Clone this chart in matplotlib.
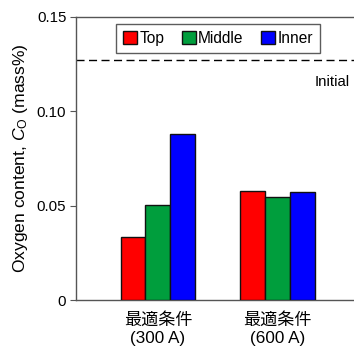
import matplotlib
matplotlib.use("Agg")
import matplotlib.pyplot as plt
import numpy as np

plt.rcParams['font.family'] = ['Liberation Sans', 'Noto Sans CJK JP', 'DejaVu Sans']
plt.rcParams['mathtext.fontset'] = 'custom'
plt.rcParams['mathtext.rm'] = 'Liberation Sans'
plt.rcParams['mathtext.it'] = 'Liberation Sans:italic'

categories = ["最適条件\n(300 A)", "最適条件\n(600 A)"]
series_names = ["Top", "Middle", "Inner"]
top = [0.0336, 0.0579]
middle = [0.0504, 0.0546]
inner = [0.0878, 0.0571]
initial = 0.127
colors = ["#ff0000", "#009e3d", "#0000ff"]

W, H = 354, 352
fig = plt.figure(figsize=(W / 100, H / 100), dpi=100)
ax = fig.add_axes([76 / W, (H - 300) / H, (354 - 76) / W, 283 / H])

x = np.arange(len(categories))
bw = 0.209
for i, (vals, name, c) in enumerate(zip([top, middle, inner], series_names, colors)):
    ax.bar(x + (i - 1) * bw, vals, width=bw, color=c, edgecolor='#111111',
           linewidth=1.0, label=name, zorder=3)

ax.axhline(initial, color='black', linestyle=(0, (5.8, 3.2)), linewidth=1.0, zorder=2)
ax.text(0.985, initial - 0.008, "Initial", transform=ax.get_yaxis_transform(),
        ha='right', va='top', fontsize=10.8)

ax.set_xlim(-0.686, (354 - 158) / 119.5)
ax.set_ylim(0, 0.15)
ax.set_yticks([0, 0.05, 0.10, 0.15])
ax.set_yticklabels(["0", "0.05", "0.10", "0.15"])
ax.set_xticks(x)
ax.set_xticklabels(categories, linespacing=1.25)
ax.tick_params(axis='x', length=0, pad=9, labelsize=12.3)
ax.tick_params(axis='y', direction='out', length=4, width=0.8, labelsize=10.8, pad=3,
               color='#555555')
for s in ['left', 'bottom', 'top']:
    ax.spines[s].set_color('#555555')
    ax.spines[s].set_linewidth(1.0)
ax.spines['right'].set_visible(False)

ax.set_ylabel("Oxygen content, $\\it{C}_{\\rm O}$ (mass%)", fontsize=12.6, labelpad=5)

leg = ax.legend(loc='upper center', bbox_to_anchor=(0.511, 0.977), ncol=3,
                frameon=True, fancybox=False, edgecolor='#333333', fontsize=11.2,
                handlelength=0.9, handleheight=0.9, handletextpad=0.15,
                columnspacing=1.1, borderpad=0.45, borderaxespad=0)
leg.get_frame().set_linewidth(1.0)

fig.savefig("out.png", dpi=100)
